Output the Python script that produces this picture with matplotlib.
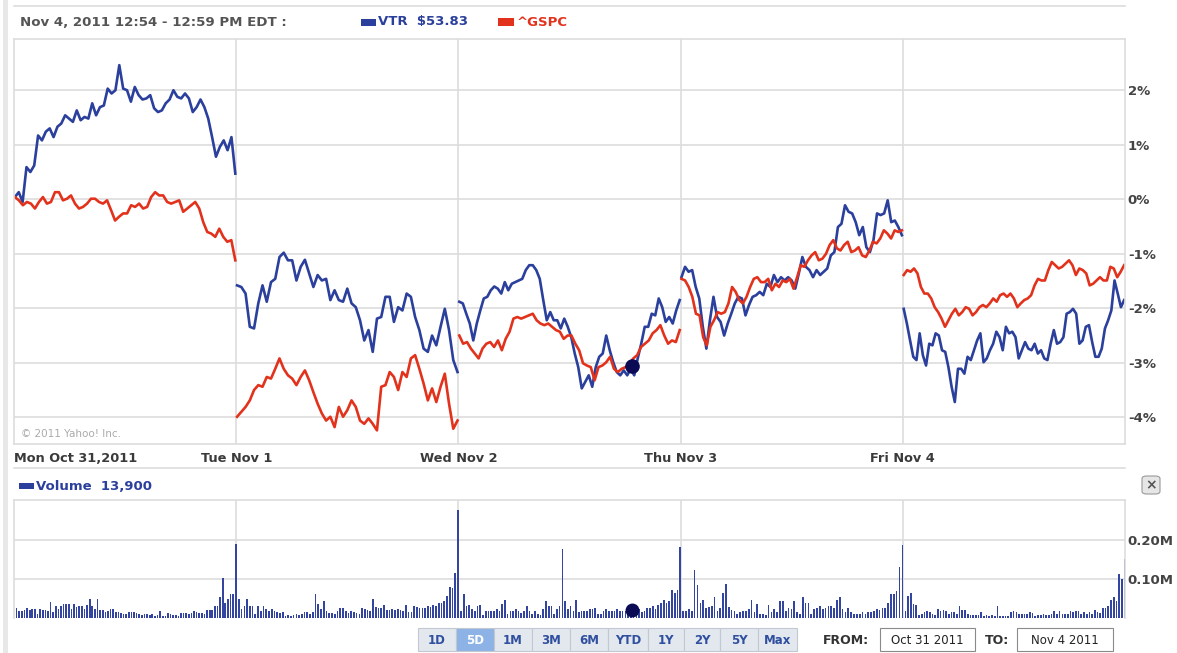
import numpy as np
import matplotlib.pyplot as plt
from matplotlib.patches import Rectangle, FancyBboxPatch
from matplotlib.lines import Line2D

# ---- data (percent change vs Mon open, one list per trading day) ----
day_labels = ["Mon Oct 31,2011", "Tue Nov 1", "Wed Nov 2", "Thu Nov 3", "Fri Nov 4"]

vtr_mon = [0.04, 0.13, -0.05, 0.59, 0.50, 0.62, 1.17, 1.08, 1.24, 1.30, 1.14, 1.33, 1.39, 1.54, 1.48,
           1.42, 1.63, 1.45, 1.51, 1.48, 1.76, 1.54, 1.69, 1.72, 2.03, 1.94, 2.00, 2.46, 2.03, 2.00,
           1.79, 2.06, 1.91, 1.83, 1.85, 1.91, 1.67, 1.60, 1.63, 1.76, 1.83, 2.00, 1.88, 1.85, 1.94,
           1.85, 1.60, 1.69, 1.83, 1.69, 1.48, 1.14, 0.78, 0.96, 1.08, 0.90, 1.14, 0.47]
vtr_tue = [-1.58, -1.61, -1.73, -2.34, -2.37, -1.91, -1.58, -1.88, -1.52, -1.46, -1.06, -0.98, -1.12,
           -1.12, -1.49, -1.24, -1.11, -1.36, -1.61, -1.39, -1.49, -1.46, -1.85, -1.67, -1.85, -1.88,
           -1.64, -1.91, -1.98, -2.22, -2.59, -2.40, -2.80, -2.19, -2.16, -1.79, -1.79, -2.25, -1.98,
           -2.04, -1.73, -1.79, -2.16, -2.40, -2.74, -2.80, -2.50, -2.68, -2.34, -2.01, -2.40, -2.95, -3.17]
vtr_wed = [-1.88, -1.91, -2.10, -2.28, -2.59, -2.28, -2.04, -1.82, -1.79, -1.67, -1.60, -1.64, -1.73,
           -1.52, -1.67, -1.55, -1.52, -1.49, -1.46, -1.30, -1.21, -1.21, -1.30, -1.46, -1.85, -2.22,
           -2.07, -2.22, -2.22, -2.37, -2.19, -2.34, -2.53, -2.83, -3.08, -3.47, -3.35, -3.23, -3.44,
           -3.08, -2.89, -2.83, -2.50, -2.77, -2.99, -3.17, -3.23, -3.14, -3.23, -3.11, -3.23, -2.92,
           -2.65, -2.34, -2.34, -2.10, -2.13, -1.82, -1.98, -2.25, -2.16, -2.28, -2.04, -1.85]
vtr_thu = [-1.43, -1.24, -1.33, -1.30, -1.61, -1.82, -2.34, -2.74, -2.22, -1.79, -2.16, -2.25, -2.50,
           -2.28, -2.10, -1.91, -1.79, -1.82, -2.13, -1.94, -1.79, -1.76, -1.70, -1.76, -1.55, -1.61,
           -1.39, -1.52, -1.43, -1.49, -1.43, -1.49, -1.64, -1.36, -1.06, -1.24, -1.30, -1.43, -1.30,
           -1.39, -1.33, -1.27, -1.03, -0.97, -0.51, -0.45, -0.11, -0.23, -0.26, -0.42, -0.66, -0.51,
           -0.88, -0.97, -0.75, -0.26, -0.29, -0.26, -0.02, -0.42, -0.39, -0.51, -0.66]
vtr_fri = [-2.01, -2.28, -2.59, -2.89, -2.95, -2.46, -2.86, -3.05, -2.65, -2.68, -2.46, -2.50, -2.77,
           -2.80, -3.08, -3.44, -3.72, -3.11, -3.11, -3.20, -2.89, -2.95, -2.77, -2.59, -2.46, -2.99,
           -2.92, -2.77, -2.65, -2.43, -2.53, -2.77, -2.34, -2.46, -2.43, -2.53, -2.92, -2.77, -2.62,
           -2.74, -2.77, -2.65, -2.83, -2.77, -2.92, -2.95, -2.65, -2.40, -2.65, -2.62, -2.53, -2.10,
           -2.07, -2.01, -2.10, -2.65, -2.59, -2.34, -2.31, -2.62, -2.89, -2.89, -2.74, -2.37, -2.22,
           -2.04, -1.49, -1.73, -1.98, -1.85]

gspc_mon = [0.04, -0.02, -0.11, -0.05, -0.08, -0.17, -0.05, 0.04, -0.08, -0.05, 0.13, 0.13, -0.02,
            0.01, 0.07, -0.08, -0.17, -0.14, -0.08, 0.01, 0.01, -0.05, -0.08, -0.02, -0.20, -0.39,
            -0.32, -0.26, -0.26, -0.11, -0.14, -0.08, -0.17, -0.14, 0.04, 0.13, 0.07, 0.07, -0.05,
            -0.08, -0.05, -0.02, -0.23, -0.17, -0.11, -0.05, -0.17, -0.42, -0.60, -0.63, -0.69, -0.54,
            -0.69, -0.78, -0.75, -1.12]
gspc_tue = [-3.99, -3.90, -3.81, -3.69, -3.50, -3.41, -3.44, -3.26, -3.29, -3.11, -2.92, -3.11, -3.23,
            -3.29, -3.41, -3.26, -3.14, -3.32, -3.54, -3.75, -3.93, -4.06, -3.99, -4.18, -3.81, -3.99,
            -3.87, -3.69, -3.81, -4.06, -4.12, -4.02, -4.12, -4.24, -3.44, -3.41, -3.17, -3.26, -3.50,
            -3.17, -3.26, -2.92, -2.86, -3.11, -3.38, -3.69, -3.47, -3.72, -3.44, -3.20, -3.75, -4.21, -4.06]
gspc_wed = [-2.50, -2.65, -2.62, -2.74, -2.83, -2.92, -2.74, -2.65, -2.62, -2.71, -2.59, -2.77, -2.56,
            -2.43, -2.19, -2.16, -2.19, -2.16, -2.13, -2.10, -2.22, -2.28, -2.31, -2.28, -2.34, -2.40,
            -2.43, -2.56, -2.50, -2.50, -2.65, -2.77, -3.01, -3.05, -3.08, -3.32, -3.08, -3.05, -2.99,
            -2.89, -3.11, -3.17, -3.11, -3.08, -3.01, -2.92, -2.86, -2.71, -2.65, -2.59, -2.46, -2.40,
            -2.31, -2.50, -2.65, -2.59, -2.62, -2.40]
gspc_thu = [-1.46, -1.49, -1.61, -1.79, -2.10, -2.13, -2.53, -2.68, -2.34, -2.22, -2.07, -2.10, -2.07,
            -1.91, -1.61, -1.70, -1.85, -1.91, -1.79, -1.61, -1.46, -1.43, -1.52, -1.52, -1.46, -1.67,
            -1.55, -1.61, -1.49, -1.52, -1.46, -1.64, -1.43, -1.21, -1.24, -1.12, -1.03, -0.97, -1.12,
            -1.09, -1.00, -0.84, -0.75, -0.90, -0.94, -0.84, -0.78, -0.97, -0.94, -0.88, -1.03, -1.06,
            -0.94, -0.78, -0.81, -0.72, -0.57, -0.63, -0.72, -0.57, -0.60, -0.57]
gspc_fri = [-1.39, -1.30, -1.33, -1.27, -1.36, -1.61, -1.73, -1.73, -1.82, -1.98, -2.07, -2.19, -2.34,
            -2.22, -2.10, -2.01, -2.13, -2.07, -1.98, -2.01, -2.13, -2.07, -1.98, -1.94, -1.98, -1.91,
            -1.82, -1.88, -1.76, -1.73, -1.79, -1.73, -1.82, -1.98, -1.91, -1.85, -1.82, -1.76, -1.58,
            -1.46, -1.49, -1.49, -1.30, -1.15, -1.21, -1.27, -1.24, -1.18, -1.12, -1.21, -1.39, -1.27,
            -1.30, -1.36, -1.58, -1.55, -1.49, -1.43, -1.49, -1.49, -1.24, -1.27, -1.43, -1.33, -1.21]

# volume in thousands of shares, 5-minute bars
vol_mon = [26, 18, 18, 20, 26, 20, 24, 22, 11, 22, 20, 20, 18, 41, 15, 30, 24, 30, 37, 37, 37, 24, 35,
           28, 32, 31, 24, 34, 50, 30, 24, 50, 20, 21, 15, 18, 22, 22, 15, 15, 13, 11, 11, 15, 15, 15,
           13, 11, 7, 9, 9, 7, 9, 4, 7, 18, 4, 4, 13, 9, 7, 7, 4, 13, 13, 13, 11, 13, 18, 15, 13, 13,
           11, 20, 20, 21, 30, 30, 54, 103, 38, 50, 61, 61, 191]
vol_tue = [50, 22, 30, 50, 30, 30, 11, 30, 18, 30, 22, 18, 22, 18, 15, 13, 15, 4, 7, 4, 7, 9, 7, 9, 15,
           15, 11, 15, 61, 37, 24, 43, 18, 13, 13, 11, 18, 26, 26, 18, 13, 18, 15, 13, 11, 26, 24, 20,
           18, 50, 28, 26, 26, 34, 20, 21, 22, 20, 24, 20, 18, 34, 15, 15, 30, 28, 26, 26, 26, 30, 28,
           34, 30, 38, 38, 43, 56, 80, 78, 115, 276]
vol_wed = [18, 61, 30, 34, 24, 18, 30, 34, 7, 18, 18, 18, 18, 22, 18, 37, 45, 9, 18, 18, 22, 18, 14,
           18, 30, 18, 11, 18, 9, 7, 22, 43, 32, 30, 9, 22, 30, 178, 43, 22, 30, 18, 45, 15, 18, 18,
           18, 22, 24, 26, 11, 11, 18, 22, 18, 18, 18, 22, 18, 18, 18, 15, 18, 18, 18, 22, 15, 18, 26,
           26, 30, 22, 34, 38, 45, 38, 43, 71, 65, 71, 182]
vol_thu = [18, 18, 22, 18, 124, 84, 38, 45, 26, 28, 30, 54, 18, 26, 64, 88, 28, 20, 18, 11, 15, 18, 18,
           22, 45, 15, 37, 9, 9, 7, 34, 15, 24, 15, 43, 43, 18, 26, 24, 43, 15, 11, 54, 38, 38, 11, 22,
           26, 30, 22, 26, 30, 30, 26, 45, 54, 22, 15, 26, 15, 11, 11, 11, 15, 11, 15, 15, 18, 22, 20,
           26, 26, 38, 61, 61, 68, 131, 186]
vol_fri = [18, 56, 64, 37, 34, 7, 9, 15, 18, 15, 11, 7, 22, 18, 20, 18, 11, 15, 15, 11, 32, 20, 20, 9,
           7, 7, 7, 7, 15, 4, 7, 4, 7, 4, 32, 4, 4, 4, 4, 15, 18, 15, 9, 9, 11, 9, 15, 13, 4, 7, 7, 11,
           7, 7, 9, 18, 11, 18, 9, 11, 9, 18, 15, 18, 18, 9, 15, 11, 15, 11, 20, 15, 13, 26, 26, 30, 45,
           54, 43, 112, 101, 152]

pct_ticks = [2, 1, 0, -1, -2, -3, -4]
vol_ticks = [100, 200]
vol_tick_labels = ["0.10M", "0.20M"]

cursor_day, cursor_pct, cursor_vol = 2.78, -3.06, 20

range_labels = ["1D", "5D", "1M", "3M", "6M", "YTD", "1Y", "2Y", "5Y", "Max"]
active_range = "5D"

vtr_days = [vtr_mon, vtr_tue, vtr_wed, vtr_thu, vtr_fri]
gspc_days = [gspc_mon, gspc_tue, gspc_wed, gspc_thu, gspc_fri]
vol_days = [vol_mon, vol_tue, vol_wed, vol_thu, vol_fri]

# ---- layout ----
W, H = 1177, 653
BLUE = "#2b3f9c"
RED = "#e2321c"
GRID = "#dddddd"
TXT = "#3a3a3a"


def fx(x):
    return x / W


def fy(y):
    return 1 - y / H


fig = plt.figure(figsize=(W / 100, H / 100), dpi=100)
fig.patch.set_facecolor("white")

# left frame strip
fig.add_artist(Rectangle((fx(3), 0), fx(5), 1, transform=fig.transFigure,
                         facecolor="#e8e8e8", edgecolor="none"))

# ---- main price chart ----
ax = fig.add_axes([fx(14), fy(444), fx(1125) - fx(14), fy(39) - fy(444)])
ax.set_xlim(0, 5)
ax.set_ylim(-4.49, 2.94)
for d in range(5):
    v = vtr_days[d]
    g = gspc_days[d]
    ax.plot(d + np.linspace(0.004, 0.996, len(v)), v, color=BLUE, lw=1.9, solid_joinstyle="round")
    ax.plot(d + np.linspace(0.004, 0.996, len(g)), g, color=RED, lw=1.9, solid_joinstyle="round")
ax.plot([cursor_day], [cursor_pct], "o", color="#0b0b55", ms=9.5, zorder=5)

ax.set_xticks([1, 2, 3, 4])
ax.set_yticks(pct_ticks)
ax.set_yticklabels([f"{t}%" for t in pct_ticks])
ax.yaxis.tick_right()
ax.tick_params(axis="y", length=0, pad=2, labelsize=9.5, labelcolor="#444444")
ax.tick_params(axis="x", length=0, labelbottom=False)
for lab in ax.get_yticklabels():
    lab.set_fontweight("bold")
ax.grid(True, color=GRID, lw=1.2)
ax.set_axisbelow(True)
for s in ax.spines.values():
    s.set_color(GRID)
    s.set_linewidth(1.2)
ax.text(0.006, 0.012, "\u00a9 2011 Yahoo! Inc.", transform=ax.transAxes, fontsize=7.5,
        color="#aaaaaa", va="bottom", ha="left")

# ---- volume chart ----
axv = fig.add_axes([fx(14), fy(618), fx(1125) - fx(14), fy(500) - fy(618)])
axv.set_xlim(0, 5)
axv.set_ylim(0, 302.6)
for d in range(5):
    vol = vol_days[d]
    axv.bar(d + np.linspace(0.012, 0.998, len(vol)), vol, width=0.0075, color="#33459e", lw=0)
axv.plot([cursor_day], [cursor_vol], "o", color="#0b0b55", ms=9, zorder=5)
axv.set_xticks([1, 2, 3, 4])
axv.set_yticks(vol_ticks)
axv.set_yticklabels(vol_tick_labels)
axv.yaxis.tick_right()
axv.tick_params(axis="y", length=0, pad=2, labelsize=9.5, labelcolor="#444444")
axv.tick_params(axis="x", length=0, labelbottom=False)
for lab in axv.get_yticklabels():
    lab.set_fontweight("bold")
axv.grid(True, color=GRID, lw=1.2)
axv.set_axisbelow(True)
for s in axv.spines.values():
    s.set_color(GRID)
    s.set_linewidth(1.2)
axv.spines["bottom"].set_visible(False)

# ---- frame lines ----
for y in (6, 468):
    fig.add_artist(Line2D([fx(14), fx(1125)], [fy(y), fy(y)], color=GRID, lw=1.2))

# ---- header ----
fig.text(fx(20), fy(22), "Nov 4, 2011 12:54 - 12:59 PM EDT :", fontsize=9.6, fontweight="bold",
         color="#555555", va="center")
fig.add_artist(Rectangle((fx(361), fy(26)), fx(15), fy(19) - fy(26), transform=fig.transFigure,
                         facecolor=BLUE, edgecolor="none"))
fig.text(fx(378), fy(22), "VTR  $53.83", fontsize=9.5, fontweight="bold", color=BLUE, va="center")
fig.add_artist(Rectangle((fx(498), fy(26)), fx(16), fy(18) - fy(26), transform=fig.transFigure,
                         facecolor=RED, edgecolor="none"))
fig.text(fx(517), fy(22), "^GSPC", fontsize=9.5, fontweight="bold", color=RED, va="center")

# ---- day labels ----
fig.text(fx(14), fy(458), day_labels[0], fontsize=9.3, fontweight="bold", color=TXT, va="center")
for d in range(1, 5):
    xpix = 14 + d * 1111 / 5
    fig.text(fx(xpix), fy(458), day_labels[d], fontsize=9.3, fontweight="bold", color=TXT,
             va="center", ha="center")

# ---- volume legend ----
fig.add_artist(Rectangle((fx(19), fy(489)), fx(15), fy(483) - fy(489), transform=fig.transFigure,
                         facecolor=BLUE, edgecolor="none"))
fig.text(fx(36), fy(486), "Volume  13,900", fontsize=9.5, fontweight="bold", color=BLUE, va="center")

# close button
fig.add_artist(FancyBboxPatch((fx(1142), fy(494)), fx(18), fy(476) - fy(494),
                              boxstyle="round,pad=0,rounding_size=0.004", transform=fig.transFigure,
                              facecolor="#e6e6e6", edgecolor="#9a9a9a", lw=0.8))
fig.text(fx(1151), fy(485), "\u00d7", fontsize=10, fontweight="bold", color="#555555",
         ha="center", va="center")

# ---- range buttons ----
btn_edges = [418, 456, 494, 532, 570, 608, 648, 684, 720, 758, 797]
for i, lab in enumerate(range_labels):
    x0, x1 = btn_edges[i], btn_edges[i + 1]
    on = lab == active_range
    fig.add_artist(Rectangle((fx(x0), fy(651)), fx(x1 - x0), fy(628) - fy(651),
                             transform=fig.transFigure,
                             facecolor="#8db3e6" if on else "#e3e7ee",
                             edgecolor="#c2c8d2", lw=0.8))
    fig.text(fx((x0 + x1) / 2), fy(640), lab, fontsize=8.5, fontweight="bold",
             color="white" if on else "#2f4f9f", ha="center", va="center")

fig.text(fx(823), fy(640), "FROM:", fontsize=9, fontweight="bold", color="#333333", va="center")
fig.add_artist(Rectangle((fx(880), fy(651)), fx(95), fy(628) - fy(651), transform=fig.transFigure,
                         facecolor="white", edgecolor="#8a8a8a", lw=0.8))
fig.text(fx(927), fy(640), "Oct 31 2011", fontsize=8.5, color="#222222", ha="center", va="center")
fig.text(fx(985), fy(640), "TO:", fontsize=9, fontweight="bold", color="#333333", va="center")
fig.add_artist(Rectangle((fx(1017), fy(651)), fx(96), fy(628) - fy(651), transform=fig.transFigure,
                         facecolor="white", edgecolor="#8a8a8a", lw=0.8))
fig.text(fx(1065), fy(640), "Nov 4 2011", fontsize=8.5, color="#222222", ha="center", va="center")

fig.savefig("out.png", dpi=100)
